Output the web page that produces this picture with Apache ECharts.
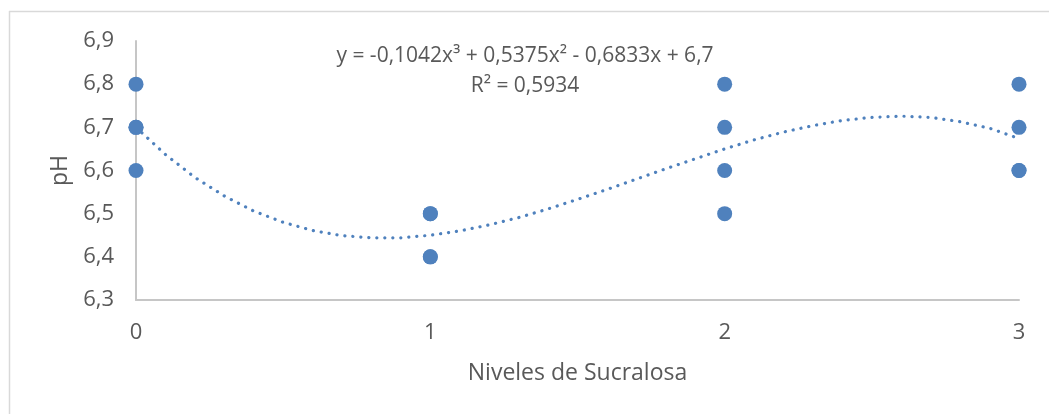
<!DOCTYPE html>
<html>
<head>
<meta charset="utf-8">
<script src="https://cdn.jsdelivr.net/npm/echarts@6/dist/echarts.min.js"></script>
<style>
html,body{margin:0;padding:0;background:#fff;}
#c{width:1049px;height:414px;}
</style>
</head>
<body>
<div id="c"></div>
<script>
// Observed points (Niveles de Sucralosa, pH)
const levels = [0, 1, 2, 3];
const phLevel0 = [6.8, 6.7, 6.7, 6.6];
const phLevel1 = [6.5, 6.5, 6.4, 6.4];
const phLevel2 = [6.8, 6.7, 6.6, 6.5];
const phLevel3 = [6.8, 6.7, 6.6, 6.6];
// Trendline values
const trendX = [0, 0.1, 0.2, 0.3, 0.4, 0.5, 0.6, 0.7, 0.8, 0.9, 1.0, 1.1, 1.2, 1.3, 1.4, 1.5,
                1.6, 1.7, 1.8, 1.9, 2.0, 2.1, 2.2, 2.3, 2.4, 2.5, 2.6, 2.7, 2.8, 2.9, 3.0];
const trendY = [6.700, 6.637, 6.584, 6.541, 6.506, 6.480, 6.461, 6.449, 6.444, 6.444, 6.450,
                6.460, 6.474, 6.491, 6.511, 6.533, 6.556, 6.580, 6.604, 6.627, 6.650,
                6.671, 6.689, 6.704, 6.716, 6.723, 6.726, 6.723, 6.713, 6.698, 6.674];
const yTicks = [6.3, 6.4, 6.5, 6.6, 6.7, 6.8, 6.9];
const xTicks = [0, 1, 2, 3];
const equationText = 'y = -0,1042x³ + 0,5375x² - 0,6833x + 6,7';
const r2Text = 'R² = 0,5934';
const xTitle = 'Niveles de Sucralosa';
const yTitle = 'pH';

const allPh = [phLevel0, phLevel1, phLevel2, phLevel3];
const scatterData = [];
levels.forEach((lv, i) => allPh[i].forEach(v => scatterData.push([lv, v])));
const trendData = trendX.map((x, i) => [x, trendY[i]]);

const FONT = 'Open Sans';
const TXT = '#595959';
const BLUE = '#4f81bd';

const chart = echarts.init(document.getElementById('c'), null, {renderer: 'canvas'});
chart.setOption({
  animation: false,
  backgroundColor: '#fff',
  grid: {left: 136, right: 30, top: 41, bottom: 114, containLabel: false},
  xAxis: {
    type: 'value', min: xTicks[0], max: xTicks[xTicks.length - 1], interval: 1,
    name: xTitle, nameLocation: 'middle', nameGap: 62,
    nameTextStyle: {color: TXT, fontFamily: FONT, fontSize: 23},
    axisLine: {show: true, lineStyle: {color: '#c6c6c6', width: 2}},
    axisTick: {show: false},
    splitLine: {show: false},
    axisLabel: {color: TXT, fontFamily: FONT, fontSize: 22, margin: 22}
  },
  yAxis: {
    type: 'value', min: yTicks[0], max: yTicks[yTicks.length - 1], interval: 0.1,
    name: yTitle, nameLocation: 'middle', nameGap: 62, nameRotate: 90,
    nameTextStyle: {color: TXT, fontFamily: FONT, fontSize: 23},
    axisLine: {show: true, lineStyle: {color: '#c6c6c6', width: 2}},
    axisTick: {show: false},
    splitLine: {show: false},
    axisLabel: {color: TXT, fontFamily: FONT, fontSize: 22, margin: 22,
      formatter: v => (Math.round(v * 10) / 10).toFixed(1).replace('.', ',')}
  },
  graphic: [
    {type: 'line', shape: {x1: 9, y1: 11.5, x2: 1049, y2: 11.5}, style: {stroke: '#d9d9d9', lineWidth: 1.5}, silent: true},
    {type: 'line', shape: {x1: 9.5, y1: 11, x2: 9.5, y2: 414}, style: {stroke: '#d9d9d9', lineWidth: 1.5}, silent: true},
    {type: 'text', style: {text: equationText, x: 525, y: 56, align: 'center', verticalAlign: 'middle', fill: TXT, font: '21px "Open Sans"'}},
    {type: 'text', style: {text: r2Text, x: 525, y: 86, align: 'center', verticalAlign: 'middle', fill: TXT, font: '21px "Open Sans"'}}
  ],
  series: [
    {
      type: 'line', data: trendData, smooth: false, showSymbol: false, z: 2,
      lineStyle: {color: BLUE, width: 3.2, type: [0.1, 7.9], cap: 'round'}
    },
    {
      type: 'scatter', data: scatterData, symbolSize: 15, z: 3,
      itemStyle: {color: BLUE, opacity: 1}
    }
  ]
});
</script>
</body>
</html>
